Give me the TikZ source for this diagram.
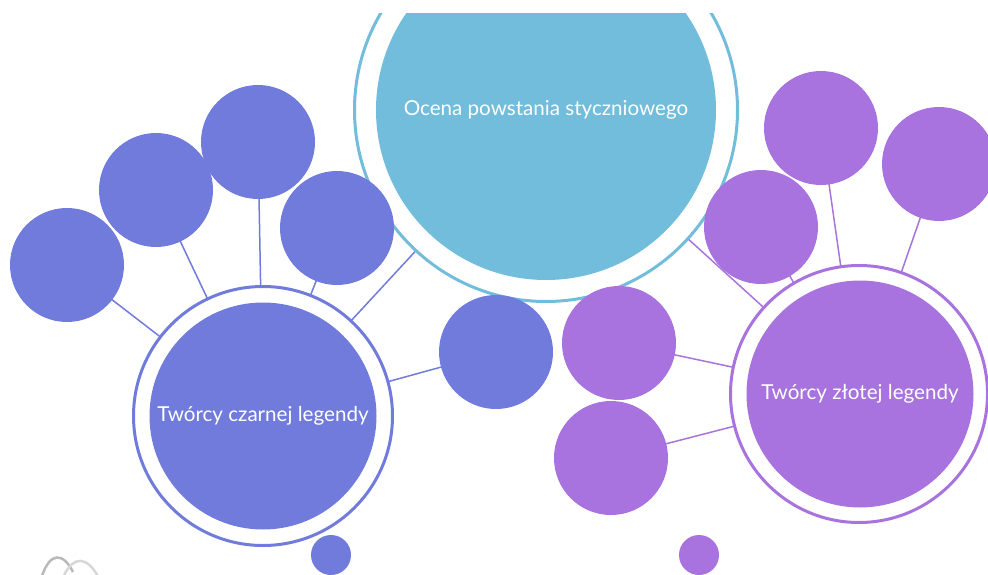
\documentclass[tikz,border=0pt]{standalone}
\usepackage{fontspec}
\setmainfont{Lato}
\usetikzlibrary{backgrounds}
\definecolor{cblue}{RGB}{112,123,220}
\definecolor{cpurple}{RGB}{168,115,222}
\definecolor{csky}{RGB}{114,188,220}
\definecolor{cgreyA}{RGB}{185,185,185}
\definecolor{cgreyB}{RGB}{215,215,215}
\tikzset{
  bub/.style={circle, inner sep=0pt, minimum size=114pt, fill=#1, draw=none},
  dot/.style={circle, inner sep=0pt, minimum size=40pt, fill=#1, draw=none},
  ring/.style={circle, inner sep=0pt, fill=white, draw=#1, line width=3pt},
  core/.style={circle, inner sep=0pt, fill=#1, draw=none, text=white, font=\fontsize{20.6}{24}\selectfont},
  link/.style={draw=#1, line width=1.5pt},
}
\begin{document}
\begin{tikzpicture}[x=1pt,y=-1pt]
\useasboundingbox (0,0) rectangle (988,575);
\begin{scope}
\clip (0,14) rectangle (988,575);
% central
\node[ring=csky, minimum size=383pt] (cR) at (546,110) {};
\node[core=csky, minimum size=340pt] (c) at (546,110) {};
\node[text=white, font=\fontsize{20.6}{24}\selectfont] (ct) at (546,110) {Ocena powstania styczniowego};
% left
\node[ring=cblue, minimum size=259pt] (lR) at (263,416) {};
\node[core=cblue, minimum size=227pt] (l) at (263,416) {Twórcy czarnej legendy};
\node[bub=cblue] (l1) at (67,265) {};
\node[bub=cblue] (l2) at (156,190) {};
\node[bub=cblue] (l3) at (258,142) {};
\node[bub=cblue] (l4) at (337,228) {};
\node[bub=cblue] (l5) at (496,352) {};
\node[dot=cblue] (ld) at (331,555) {};
% right
\node[ring=cpurple, minimum size=257pt] (rR) at (859,394) {};
\node[core=cpurple, minimum size=227pt] (r) at (860,394) {Twórcy złotej legendy};
\node[bub=cpurple] (r1) at (821,128) {};
\node[bub=cpurple] (r2) at (939,164) {};
\node[bub=cpurple] (r3) at (761,227) {};
\node[bub=cpurple] (r4) at (619,343) {};
\node[bub=cpurple] (r5) at (611,458) {};
\node[dot=cpurple] (rd) at (699,555) {};
\end{scope}
\begin{pgfonlayer}{background}
\foreach \a in {l1,l2,l3,l4,l5,c}{\draw[link=cblue] (\a.center) -- (lR.center);}
\foreach \a in {r1,r2,r3,r4,r5,c}{\draw[link=cpurple] (\a.center) -- (rR.center);}
\end{pgfonlayer}
% logo fragment
\coordinate (g1) at (42,576);
\coordinate (g2) at (73,572);
\coordinate (g3) at (64,575);
\coordinate (g4) at (98,576);
\draw[cgreyA, line width=2.5pt] (g1) .. controls (50,552) and (63,552) .. (g2);
\draw[cgreyB, line width=2.5pt] (g3) .. controls (74,556) and (86,556) .. (g4);
\end{tikzpicture}
\end{document}
